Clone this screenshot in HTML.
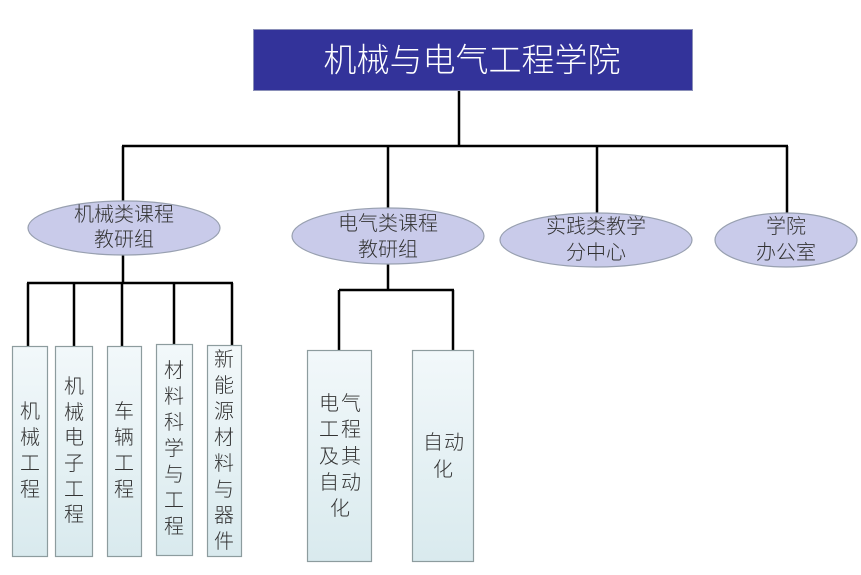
<!DOCTYPE html>
<html><head><meta charset="utf-8"><style>
html,body{margin:0;padding:0;background:#fff;}
svg{display:block;}
text{font-family:"Liberation Sans","Noto Sans CJK SC",sans-serif;font-weight:300;}
</style></head><body>
<svg width="861" height="575" viewBox="0 0 861 575" xmlns="http://www.w3.org/2000/svg">
<defs>
<linearGradient id="g" x1="0" y1="0" x2="0" y2="1">
<stop offset="0" stop-color="#f2f8fa"/>
<stop offset="1" stop-color="#d9eaee"/>
</linearGradient>
</defs>
<g stroke="#000" stroke-width="2.5" fill="none">
<line x1="459" y1="91" x2="459" y2="146"/>
<line x1="122" y1="146" x2="788" y2="146"/>
<line x1="123" y1="146" x2="123" y2="201"/>
<line x1="388" y1="146" x2="388" y2="209"/>
<line x1="597" y1="146" x2="597" y2="213"/>
<line x1="787" y1="146" x2="787" y2="213"/>
<line x1="123" y1="255" x2="123" y2="283"/>
<line x1="27" y1="283" x2="233" y2="283"/>
<line x1="28" y1="283" x2="28" y2="346"/>
<line x1="74" y1="283" x2="74" y2="346"/>
<line x1="122" y1="283" x2="122" y2="346"/>
<line x1="174" y1="283" x2="174" y2="344"/>
<line x1="232" y1="283" x2="232" y2="345"/>
<line x1="388" y1="264" x2="388" y2="290"/>
<line x1="339" y1="290" x2="454" y2="290"/>
<line x1="339" y1="290" x2="339" y2="350"/>
<line x1="453" y1="290" x2="453" y2="350"/>
</g>
<rect x="253.5" y="29.5" width="439" height="61" fill="#33339a" stroke="#8a8fb8" stroke-width="1"/>
<text x="472" y="60" fill="#fff" font-size="33" text-anchor="middle" dominant-baseline="central">机械与电气工程学院</text>
<g fill="#c9cbea" stroke="#98a0b0" stroke-width="1.2">
<ellipse cx="124" cy="228" rx="96" ry="27"/>
<ellipse cx="388" cy="236" rx="96" ry="28"/>
<ellipse cx="596" cy="240" rx="96" ry="27"/>
<ellipse cx="786" cy="240" rx="71" ry="27"/>
</g>
<g font-size="20" fill="#333" text-anchor="middle" dominant-baseline="central">
<text x="124" y="215">机械类课程</text>
<text x="124" y="240">教研组</text>
<text x="388" y="224">电气类课程</text>
<text x="388" y="250">教研组</text>
<text x="596" y="227">实践类教学</text>
<text x="596" y="253">分中心</text>
<text x="786" y="227">学院</text>
<text x="786" y="253">办公室</text>
</g>
<g fill="url(#g)" stroke="#8d9c9e" stroke-width="1.2">
<rect x="12.5" y="346.5" width="35" height="210"/>
<rect x="55.5" y="346.5" width="37" height="210"/>
<rect x="107.5" y="346.5" width="34" height="210"/>
<rect x="156.5" y="344.5" width="36" height="211"/>
<rect x="207.5" y="345.5" width="34" height="211"/>
<rect x="307.5" y="350.5" width="64" height="211"/>
<rect x="412.5" y="350.5" width="61" height="211"/>
</g>
<g font-size="20" fill="#333" text-anchor="middle" dominant-baseline="central">
<text x="30" y="412">机</text><text x="30" y="438">械</text><text x="30" y="464">工</text><text x="30" y="490">程</text>
<text x="74" y="387">机</text><text x="74" y="413">械</text><text x="74" y="438">电</text><text x="74" y="464">子</text><text x="74" y="490">工</text><text x="74" y="515">程</text>
<text x="124" y="412">车</text><text x="124" y="438">辆</text><text x="124" y="464">工</text><text x="124" y="490">程</text>
<text x="174" y="371">材</text><text x="174" y="397">料</text><text x="174" y="423">科</text><text x="174" y="449">学</text><text x="174" y="475">与</text><text x="174" y="501">工</text><text x="174" y="527">程</text>
<text x="224" y="360">新</text><text x="224" y="386">能</text><text x="224" y="412">源</text><text x="224" y="438">材</text><text x="224" y="464">料</text><text x="224" y="490">与</text><text x="224" y="516">器</text><text x="224" y="542">件</text>
<text x="329" y="404">电</text><text x="351" y="404">气</text>
<text x="329" y="430">工</text><text x="351" y="430">程</text>
<text x="329" y="457">及</text><text x="351" y="457">其</text>
<text x="329" y="483">自</text><text x="351" y="483">动</text>
<text x="340" y="509">化</text>
<text x="433" y="443">自</text><text x="454" y="443">动</text>
<text x="443" y="470">化</text>
</g>
</svg>
</body></html>
